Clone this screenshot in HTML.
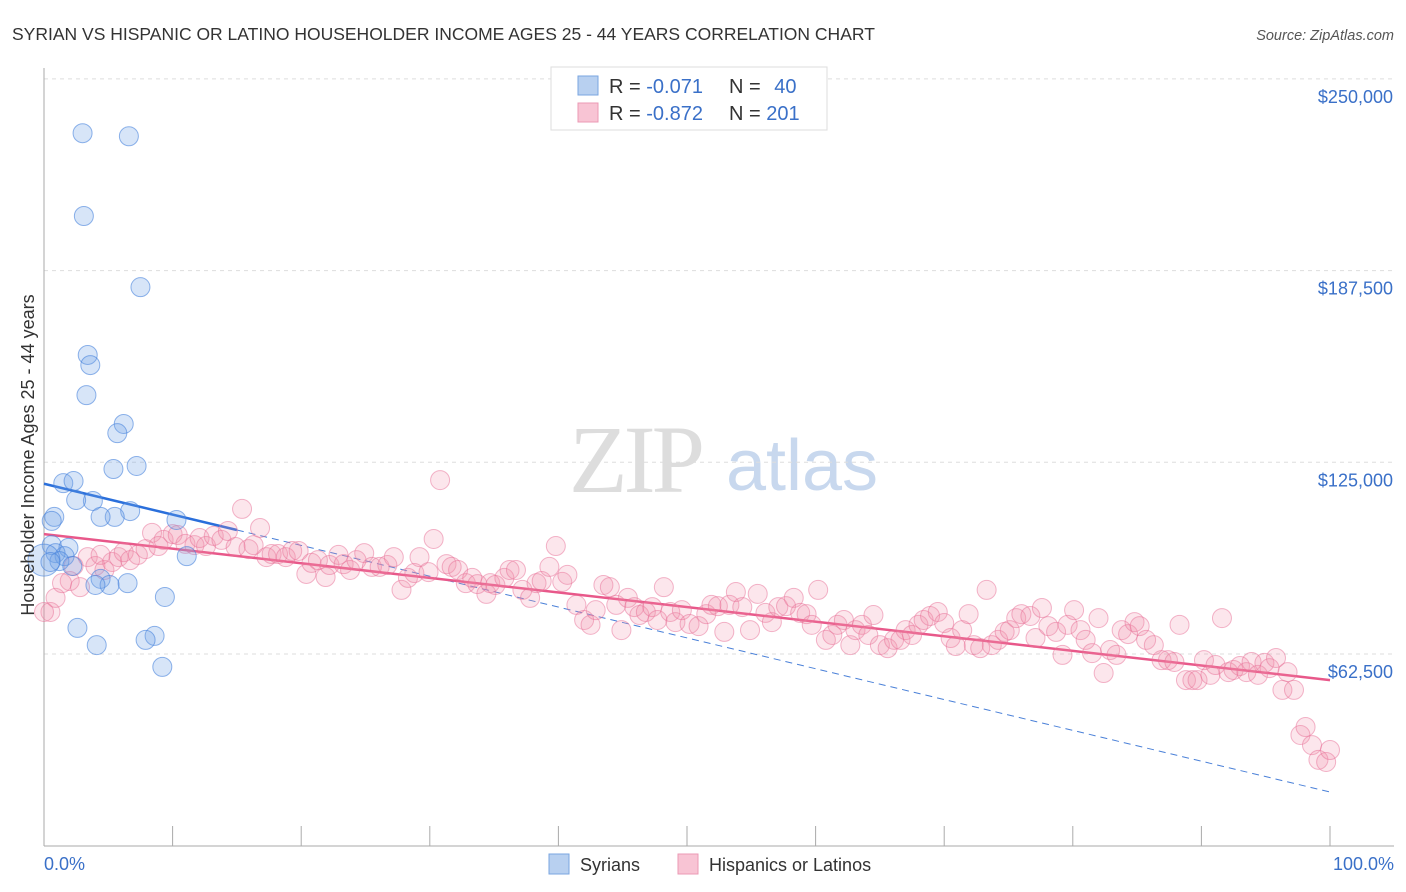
<!DOCTYPE html>
<html><head><meta charset="utf-8"><style>
body{margin:0;background:#fff;font-family:"Liberation Sans",sans-serif;}
svg{display:block}
</style></head><body>
<svg width="1406" height="892" viewBox="0 0 1406 892">
<text x="12" y="40" font-size="17.5" fill="#333">SYRIAN VS HISPANIC OR LATINO HOUSEHOLDER INCOME AGES 25 - 44 YEARS CORRELATION CHART</text>
<text x="1394" y="40" font-size="14.5" fill="#555" font-style="italic" text-anchor="end">Source: ZipAtlas.com</text>
<g>
<text x="635" y="492" font-size="96" fill="#ddd" font-family="Liberation Serif,serif" text-anchor="middle" letter-spacing="-4">ZIP</text>
<text x="802" y="490" font-size="72" fill="#c8d8ee" text-anchor="middle">atlas</text>
</g>
<g id="grid"></g>
<g id="axes"></g>
<g id="trends"></g>
<g id="pts"></g>
<text transform="translate(34,455) rotate(-90)" font-size="18" fill="#333" text-anchor="middle">Householder Income Ages 25 - 44 years</text>
<text x="44" y="870" font-size="18" fill="#3a70c8">0.0%</text>
<text x="1394" y="870" font-size="18" fill="#3a70c8" text-anchor="end">100.0%</text>
<g>
<rect x="551" y="67" width="276" height="63" fill="#fff" stroke="#ddd"/>
<rect x="578" y="76" width="20" height="19" fill="#b8d0f0" stroke="#7aa6e0"/>
<rect x="578" y="103" width="20" height="19" fill="#f8c4d4" stroke="#eb9ab4"/>
<text x="609" y="93" font-size="20" fill="#333">R = <tspan fill="#3a70c8">-0.071</tspan></text>
<text x="729" y="93" font-size="20" fill="#333">N = <tspan fill="#3a70c8" dx="8">40</tspan></text>
<text x="609" y="120" font-size="20" fill="#333">R = <tspan fill="#3a70c8">-0.872</tspan></text>
<text x="729" y="120" font-size="20" fill="#333">N = <tspan fill="#3a70c8">201</tspan></text>
</g>
<g>
<rect x="549" y="854" width="20" height="20" fill="#b8d0f0" stroke="#7aa6e0"/>
<text x="580" y="871" font-size="18" fill="#333">Syrians</text>
<rect x="678" y="854" width="20" height="20" fill="#f8c4d4" stroke="#eb9ab4"/>
<text x="709" y="871" font-size="18" fill="#333">Hispanics or Latinos</text>
</g>
</svg>
<script>
const yTicks=[62.5,125,187.5,250];
const yTickLabels=["$62,500","$125,000","$187,500","$250,000"];
const xTicks=[0,10,20,30,40,50,60,70,80,90,100];
const syrX=[3.0,6.6,3.1,7.5,3.4,3.6,3.3,6.2,5.7,7.2,5.4,1.5,2.3,3.8,2.5,6.7,5.5,4.4,0.8,0.6,10.3,0.6,1.9,0.9,1.6,1.2,2.2,11.1,4.4,5.1,4.0,6.5,9.4,2.6,4.1,8.6,7.9,9.2,0,0.5];
const syrY=[232.3,231.3,205.3,182.1,160.0,156.7,146.9,137.5,134.5,123.8,122.8,118.2,118.9,112.4,112.7,109.1,107.2,107.2,107.2,105.9,106.2,98.0,97.1,95.4,94.4,92.8,91.2,94.4,87.0,85.0,85.0,85.6,81.1,71.0,65.4,68.4,67.1,58.3,93.1,92.5];
const hisX=[0.5,0.9,2.0,2.3,3.4,4.0,4.7,5.3,5.8,6.2,6.7,7.3,7.9,8.4,8.9,9.3,10.0,10.4,11.0,11.7,12.1,12.6,13.2,13.8,14.3,14.9,15.4,15.9,16.3,16.8,17.3,17.7,18.2,18.8,19.3,19.8,20.4,20.8,21.3,21.9,22.2,22.9,23.3,23.8,24.3,24.9,25.5,26.1,26.7,27.2,27.8,28.3,28.8,29.2,29.9,30.3,30.8,31.3,31.7,32.2,32.8,33.3,33.7,34.4,34.7,35.1,35.8,36.2,36.7,37.2,37.8,38.3,38.7,39.3,39.8,40.3,40.7,41.4,42.0,42.5,42.9,43.5,44.0,44.5,44.9,45.4,45.9,46.3,46.8,47.3,47.7,48.2,48.7,49.1,49.6,50.2,50.9,51.5,51.9,52.4,52.9,53.3,53.8,54.3,54.9,55.5,56.1,56.6,57.1,57.7,58.3,58.8,59.3,59.7,60.2,60.8,61.3,61.7,62.2,62.7,63.1,63.6,64.1,64.5,65.0,65.6,66.1,66.6,67.0,67.5,68.0,68.4,68.9,69.5,70.0,70.5,70.9,71.4,71.9,72.3,72.8,73.3,73.7,74.2,74.7,75.1,75.6,76.0,76.7,77.1,77.6,78.1,78.7,79.2,79.6,80.1,80.6,81.0,81.5,82.0,82.4,82.9,83.4,83.8,84.3,84.8,85.2,85.7,86.3,86.9,87.4,87.9,88.3,88.8,89.3,89.7,90.2,90.7,91.1,91.6,92.1,92.5,93.0,93.5,93.9,94.4,94.9,95.3,95.8,96.3,96.7,97.2,97.7,98.1,98.6,99.1,99.7,100,0,1.4,2.8,4.4];
const hisY=[76.2,80.8,86.3,91.2,94.1,91.2,89.9,92.5,94.1,95.7,93.1,94.8,96.7,102.0,97.7,99.7,101.6,101.3,98.4,98.0,100.3,97.7,101.0,99.7,102.6,97.4,109.8,96.7,98.0,103.6,94.1,95.1,95.1,94.1,96.1,96.1,88.6,92.2,93.1,87.6,91.5,94.8,91.8,89.9,93.1,95.4,90.9,90.9,91.5,94.1,83.4,87.3,88.9,94.1,89.2,100.0,119.2,91.8,90.9,89.9,85.6,87.3,85.3,82.1,85.6,85.0,87.3,89.9,89.9,83.4,80.8,85.6,86.3,90.9,97.7,86.0,88.3,78.5,73.6,72.0,76.8,85.0,84.3,78.5,70.3,80.8,77.8,75.2,76.2,77.8,73.6,84.3,76.2,72.9,76.8,72.3,71.6,75.5,78.5,78.1,69.7,78.5,82.7,77.8,70.3,82.1,75.9,72.9,77.8,78.1,80.8,75.9,75.5,72.0,83.4,67.1,68.7,72.0,73.6,65.4,70.3,72.0,68.7,75.2,65.4,64.4,67.1,67.1,70.3,68.7,72.0,73.6,74.9,76.2,72.6,67.7,65.1,70.3,75.5,65.4,64.4,83.4,65.4,67.1,69.7,70.3,74.2,75.5,74.9,67.7,77.5,71.6,69.7,62.2,72.0,76.8,70.3,67.1,62.8,74.2,56.3,63.8,62.2,70.3,69.0,72.9,71.6,67.1,65.4,60.5,60.5,59.9,72.0,54.0,54.0,54.0,60.5,55.7,58.9,74.2,56.6,57.3,58.6,56.6,59.9,55.7,59.6,57.9,61.2,50.8,56.6,50.8,36.1,38.7,32.8,28.0,27.3,31.2,76.2,85.6,84.3,94.8];
const syrTrend=[118,17.5], hisTrend=[101.6,54.0], syrSolidEnd=15;
const NS="http://www.w3.org/2000/svg";
const X0=44,X1=1330,YB=845.7,YPX=191.7/62.5;
const sx=v=>X0+(X1-X0)*v/100, sy=v=>YB-v*YPX;
function mk(tag,attrs,parent){const e=document.createElementNS(NS,tag);for(const k in attrs)e.setAttribute(k,attrs[k]);parent.appendChild(e);return e;}
const grid=document.getElementById('grid'),axes=document.getElementById('axes');
yTicks.forEach((t,i)=>{
 const l=mk('line',{x1:X0,x2:1394,y1:sy(t),y2:sy(t),stroke:'#ddd','stroke-dasharray':'4,4'},grid);
 
 
 const tx=mk('text',{x:1393,y:sy(t)+24,'font-size':18,fill:'#3a70c8','text-anchor':'end'},axes);
 tx.textContent=yTickLabels[i];
 
 
});
const ya=mk('line',{x1:X0,x2:X0,y1:68,y2:846,stroke:'#aaa'},axes);


const xa=mk('line',{x1:X0,x2:1394,y1:846,y2:846,stroke:'#aaa'},axes);


xTicks.forEach(t=>{
 const l=mk('line',{x1:sx(t),x2:sx(t),y1:826,y2:846,stroke:'#aaa'},axes);
 
 
});
const pts=document.getElementById('pts');
hisX.forEach((x,i)=>{
 const c=mk('circle',{cx:sx(x),cy:sy(hisY[i]),r:9.5,fill:'rgba(242,140,170,0.22)',stroke:'rgba(232,110,150,0.5)','stroke-width':1},pts);
 
 
});
syrX.forEach((x,i)=>{
 const c=mk('circle',{cx:sx(x),cy:sy(syrY[i]),r:i==38?16:9.5,fill:'rgba(110,160,230,0.28)',stroke:'rgba(70,130,220,0.6)','stroke-width':1},pts);
 
 
});
const tr=document.getElementById('trends');
const syAt=p=>syrTrend[0]+(syrTrend[1]-syrTrend[0])*p/100;
const sd=mk('line',{x1:sx(syrSolidEnd),y1:sy(syAt(syrSolidEnd)),x2:sx(100),y2:sy(syrTrend[1]),stroke:'#4a80d8','stroke-width':1,'stroke-dasharray':'7,5'},tr);


const ss=mk('line',{x1:sx(0),y1:sy(syrTrend[0]),x2:sx(syrSolidEnd),y2:sy(syAt(syrSolidEnd)),stroke:'#2a6fdb','stroke-width':2.5},tr);


const hs=mk('line',{x1:sx(0),y1:sy(hisTrend[0]),x2:sx(100),y2:sy(hisTrend[1]),stroke:'#e8588a','stroke-width':2.5},tr);


</script>
</body></html>
